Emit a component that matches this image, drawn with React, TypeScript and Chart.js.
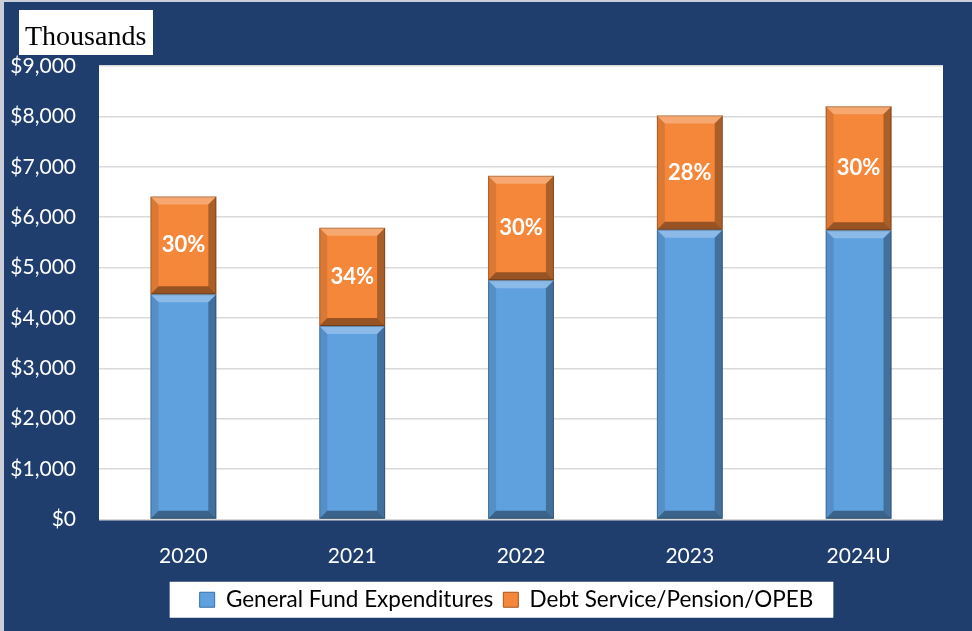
import React, { useEffect, useRef } from "react";
import { Chart, registerables } from "chart.js";

Chart.register(...registerables);

const years = ["2020", "2021", "2022", "2023", "2024U"];
const generalFund = [4470, 3840, 4750, 5750, 5740];
const debtService = [1940, 1950, 2070, 2270, 2460];
const debtShareLabels = ["30%", "34%", "30%", "28%", "30%"];
const yTickStep = 1000;
const yMax = 9000;

const NAVY = "#1F3D6D";
const BLUE = "#5FA0DF";
const ORANGE = "#F4873A";
const FONT = "Lato, 'Noto Sans', sans-serif";
const LEGEND_SHIFT = 35;

const backgroundPlugin = {
  id: "bgPlugin",
  afterLayout(chart: any) {
    const lg = chart.legend;
    if (lg) {
      lg.left += LEGEND_SHIFT;
      lg.right += LEGEND_SHIFT;
    }
  },
  beforeDraw(chart: any) {
    const { ctx, width, height, chartArea } = chart;
    ctx.save();
    ctx.fillStyle = NAVY;
    ctx.fillRect(0, 0, width, height);
    ctx.fillStyle = "#C9CED8";
    ctx.fillRect(0, 0, width, 2);
    ctx.fillRect(0, 0, 4, height);
    ctx.fillStyle = "#FFFFFF";
    ctx.fillRect(chartArea.left, chartArea.top, chartArea.right - chartArea.left, chartArea.bottom - chartArea.top);
    ctx.fillRect(19, 10, 134, 45);
    ctx.fillStyle = "#000";
    ctx.font = "28px 'Liberation Serif', 'DejaVu Serif', serif";
    ctx.textBaseline = "alphabetic";
    ctx.textAlign = "left";
    ctx.fillText("Thousands", 25, 45);
    const lg = chart.legend;
    if (lg && lg.legendHitBoxes && lg.legendHitBoxes.length) {
      const hb = lg.legendHitBoxes;
      const first = hb[0];
      const last = hb[hb.length - 1];
      const cy = first.top + first.height / 2;
      const l = first.left - 30;
      const r = last.left + last.width + 20;
      ctx.fillStyle = "#FFFFFF";
      ctx.fillRect(l, cy - 18, r - l, 36);
    }
    ctx.restore();
  },
};

const bevelPlugin = {
  id: "bevelPlugin",
  afterDatasetsDraw(chart: any) {
    const { ctx } = chart;
    ctx.save();
    chart.data.datasets.forEach((ds: any, di: number) => {
      const meta = chart.getDatasetMeta(di);
      meta.data.forEach((el: any, i: number) => {
        const p = el.getProps(["x", "y", "base", "width"], true);
        const l = p.x - p.width / 2;
        const r = p.x + p.width / 2;
        const t = Math.min(p.y, p.base);
        const bm = Math.max(p.y, p.base);
        const b = Math.min(8, (bm - t) / 3);
        const poly = (pts: number[][], fill: string) => {
          ctx.beginPath();
          ctx.moveTo(pts[0][0], pts[0][1]);
          for (let k = 1; k < pts.length; k++) ctx.lineTo(pts[k][0], pts[k][1]);
          ctx.closePath();
          ctx.fillStyle = fill;
          ctx.fill();
        };
        poly([[l, t], [r, t], [r - b, t + b], [l + b, t + b]], "rgba(255,255,255,0.28)");
        poly([[l, t], [l + b, t + b], [l + b, bm - b], [l, bm]], "rgba(0,0,0,0.10)");
        poly([[r, t], [r - b, t + b], [r - b, bm - b], [r, bm]], "rgba(0,0,0,0.30)");
        poly([[l, bm], [l + b, bm - b], [r - b, bm - b], [r, bm]], "rgba(0,0,0,0.38)");
        ctx.strokeStyle = "rgba(0,0,0,0.25)";
        ctx.lineWidth = 1;
        ctx.strokeRect(l + 0.5, t + 0.5, r - l - 1, bm - t - 1);
        if (di === 1) {
          ctx.fillStyle = "#FFFFFF";
          ctx.font = `bold 22px ${FONT}`;
          ctx.textAlign = "center";
          ctx.textBaseline = "middle";
          ctx.fillText(debtShareLabels[i], p.x, (t + bm) / 2);
        }
      });
    });
    ctx.restore();
  },
};

export default function App() {
  const ref = useRef<HTMLCanvasElement | null>(null);
  useEffect(() => {
    document.body.style.margin = "0";
    const canvas = ref.current;
    if (!canvas) return;
    const chart = new Chart(canvas, {
      type: "bar",
      data: {
        labels: years,
        datasets: [
          {
            label: "General Fund Expenditures",
            data: generalFund,
            backgroundColor: BLUE,
            borderColor: "#3A6FA5",
            borderWidth: 0,
            stack: "s",
          },
          {
            label: "Debt Service/Pension/OPEB",
            data: debtService,
            backgroundColor: ORANGE,
            borderColor: "#A8561E",
            borderWidth: 0,
            stack: "s",
          },
        ],
      },
      options: {
        responsive: false,
        animation: false,
        layout: { padding: { left: 0, right: 29, top: 66, bottom: 10 } },
        datasets: {
          bar: { categoryPercentage: 1, barPercentage: 0.39 },
        },
        plugins: {
          legend: {
            position: "bottom",
            labels: {
              color: "#000",
              font: { family: FONT, size: 22.5 },
              boxWidth: 15,
              boxHeight: 15,
              padding: 10,
              generateLabels: (c: any) =>
                c.data.datasets.map((d: any, i: number) => ({
                  text: d.label,
                  fillStyle: d.backgroundColor,
                  strokeStyle: d.borderColor,
                  lineWidth: 1,
                  datasetIndex: i,
                  hidden: false,
                  fontColor: "#000",
                })),
            },
          },
          tooltip: { enabled: false },
        },
        scales: {
          x: {
            stacked: true,
            grid: { display: false },
            border: { display: false },
            ticks: { color: "#FFFFFF", font: { family: FONT, size: 21 }, padding: 16 },
            afterFit: (s: any) => {
              s.height = 59;
            },
          },
          y: {
            stacked: true,
            min: 0,
            max: yMax,
            ticks: {
              stepSize: yTickStep,
              color: "#FFFFFF",
              font: { family: FONT, size: 21 },
              padding: 23,
              callback: (v: any) => "$" + Number(v).toLocaleString("en-US"),
            },
            grid: { color: "#D9D9D9", lineWidth: 1.5, drawTicks: false },
            border: { display: false },
            afterFit: (s: any) => {
              s.width = 99;
            },
          },
        },
      },
      plugins: [backgroundPlugin, bevelPlugin],
    });
    return () => chart.destroy();
  }, []);
  return (
    <canvas
      ref={ref}
      width={972}
      height={631}
      style={{ position: "absolute", left: 0, top: 0, display: "block" }}
    />
  );
}
